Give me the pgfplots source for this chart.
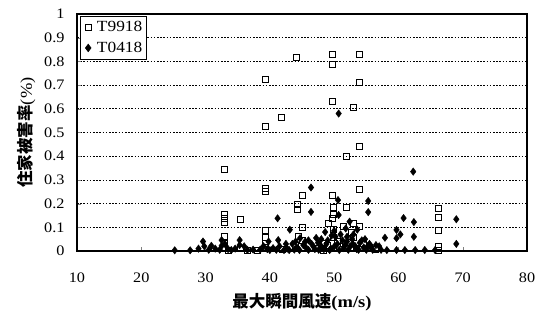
\documentclass[border=0pt]{standalone}
\usepackage{fontspec}
\setmainfont{Liberation Serif}[FakeStretch=1.12]
\newfontfamily\cjk{Noto Sans CJK JP}
\usepackage{pgfplots}
\pgfplotsset{compat=1.18}
\pgfplotstableread{
x y
44.2 0.816
49.8 0.830
49.8 0.785
53.9 0.830
39.3 0.724
53.9 0.710
49.8 0.630
53.0 0.605
41.8 0.562
39.3 0.524
53.9 0.439
51.9 0.400
32.9 0.343
39.3 0.262
39.3 0.252
45.0 0.236
49.8 0.234
53.9 0.258
44.3 0.196
44.3 0.176
49.9 0.182
51.9 0.182
32.9 0.155
32.9 0.137
32.9 0.121
35.5 0.134
49.8 0.138
49.9 0.155
49.1 0.117
45.1 0.098
51.4 0.103
53.0 0.114
54.0 0.103
39.3 0.086
49.9 0.090
52.7 0.080
32.9 0.060
44.4 0.062
39.3 0.056
49.9 0.056
53.0 0.056
45.0 0.045
48.3 0.032
50.5 0.040
51.5 0.030
52.5 0.038
54.5 0.030
44.0 0.025
47.3 0.010
48.3 0.010
48.3 0.002
66.2 0.178
66.2 0.143
66.2 0.088
66.2 0.018
66.2 0.004
39.3 0.030
39.3 0.015
32.9 0.030
32.9 0.012
35.5 0.010
38.0 0.004
33.5 0.003
42.0 0.008
36.5 0.003
55.5 0.015
56.5 0.008
50.8 0.020
49.0 0.025
53.5 0.012
}\tA
\pgfplotstableread{
x y
50.7 0.580
62.3 0.335
46.4 0.268
50.6 0.215
55.3 0.211
46.4 0.165
55.3 0.164
50.7 0.152
52.4 0.124
41.2 0.138
43.1 0.090
60.8 0.139
62.4 0.122
69.0 0.134
69.0 0.030
59.7 0.089
60.3 0.070
59.7 0.054
62.4 0.060
57.9 0.056
25.2 0.003
27.6 0.003
29.6 0.040
29.8 0.020
30.9 0.022
28.9 0.010
32.5 0.046
32.5 0.022
32.2 0.005
35.3 0.046
35.3 0.025
34.6 0.010
36.5 0.005
37.4 0.006
38.5 0.006
39.8 0.040
39.6 0.008
41.3 0.046
41.5 0.020
42.7 0.010
44.7 0.054
44.2 0.015
45.6 0.015
46.5 0.030
47.0 0.008
48.0 0.020
49.0 0.045
49.5 0.010
50.2 0.060
50.5 0.030
51.0 0.070
51.5 0.012
52.0 0.040
52.5 0.020
53.0 0.070
53.5 0.008
54.0 0.035
54.6 0.015
55.5 0.030
56.0 0.005
57.0 0.020
57.3 0.005
58.2 0.004
59.7 0.004
61.0 0.004
62.6 0.004
64.1 0.004
65.7 0.004
48.0 0.050
47.5 0.035
50.0 0.085
51.8 0.095
52.8 0.050
45.5 0.040
43.5 0.030
30.5 0.005
33.5 0.008
40.5 0.012
42.2 0.004
43.0 0.004
43.8 0.006
44.6 0.004
45.2 0.025
46.0 0.005
46.8 0.018
47.6 0.005
48.4 0.008
48.8 0.030
49.3 0.004
50.0 0.018
50.8 0.004
51.3 0.045
51.7 0.025
52.2 0.005
52.9 0.030
53.3 0.020
53.8 0.005
54.3 0.045
55.0 0.005
55.2 0.020
55.8 0.012
56.5 0.025
31.5 0.010
33.0 0.030
34.0 0.004
36.0 0.020
39.0 0.020
40.0 0.004
41.0 0.005
42.5 0.030
44.0 0.040
46.0 0.045
47.2 0.055
49.6 0.065
48.6 0.080
52.0 0.060
54.8 0.050
53.6 0.090
}\tB
\begin{document}
\begin{tikzpicture}
\begin{axis}[
  scale only axis,
  width=450pt, height=237pt,
  xmin=10, xmax=80, ymin=0, ymax=1,
  xtick={10,20,...,80},
  ytick={0,0.1,...,1.0},
  xticklabel={\pgfmathprintnumber[assume math mode=true]{\tick}},
  yticklabel={\pgfmathprintnumber[assume math mode=true]{\tick}},
  tick pos=left,
  tick align=inside,
  major tick length=4pt,
  axis line style={line width=1.1pt},
  ymajorgrids,
  grid style={black, line width=0.8pt, dash pattern=on 1.6pt off 1.6pt},
  tick label style={font=\fontsize{14.5}{16}\selectfont},
  xticklabel style={yshift=-18pt},
  yticklabel style={xshift=-9pt},
  xlabel={{\cjk\bfseries 最大瞬間風速}{\bfseries (m/s)}},
  ylabel={{\cjk\bfseries 住家被害率}(\%)},
  label style={font=\fontsize{16.5}{18}\selectfont},
  xlabel style={yshift=-4pt},
  ylabel style={yshift=2pt},
  legend style={at={(rel axis cs:0.006,0.992)}, anchor=north west,
    draw=black, line width=0.7pt, font=\fontsize{15.5}{17}\selectfont,
    row sep=5pt, inner xsep=2pt, inner ysep=3pt},
  legend cell align=left,
  legend image code/.code={\path (0cm,0cm) (0.42cm,0cm);
    \draw[#1] plot coordinates {(0.2cm,0cm)};},
]
\addplot[only marks, mark=square, mark size=3pt, line width=1pt, black] table {\tA};
\addlegendentry{T9918}
\addplot[only marks, mark=diamond*, mark size=3.7pt, black] table {\tB};
\addlegendentry{T0418}
\coordinate (ll) at (rel axis cs:0,0);
\coordinate (ur) at (rel axis cs:1,1);
\end{axis}
\pgfresetboundingbox
\path (ll) ++(-77pt,-71pt) rectangle ([shift={(20pt,14pt)}]ur);
\end{tikzpicture}
\end{document}
